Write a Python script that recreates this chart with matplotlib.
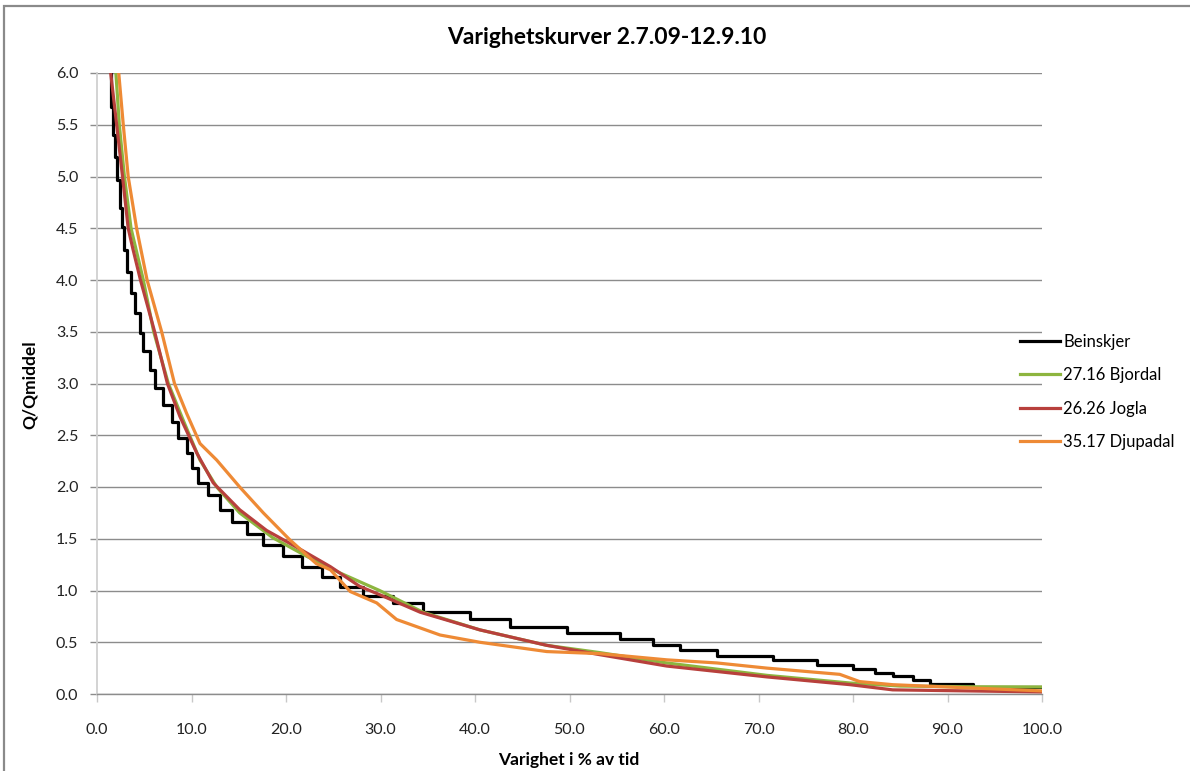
import matplotlib
matplotlib.use("Agg")
import matplotlib.pyplot as plt
from matplotlib.patches import Rectangle

# ---------------- data ----------------
title = "Varighetskurver 2.7.09-12.9.10"
xlabel = "Varighet i % av tid"
ylabel = "Q/Qmiddel"
series_names = ["Beinskjer", "27.16 Bjordal", "26.26 Jogla", "35.17 Djupadal"]

# Beinskjer: stepped duration curve (x = start of each level)
bein_x = [1.2, 1.45, 1.7, 1.9, 2.1, 2.4, 2.65, 2.85, 3.2, 3.55, 4.05, 4.55,
          4.87, 5.61, 6.14, 6.98, 7.94, 8.57, 9.52, 10.05, 10.69, 11.75,
          13.0, 14.3, 15.9, 17.6, 19.7, 21.7, 23.8, 25.7, 28.1, 31.3,
          34.5, 39.5, 43.7, 49.7, 55.3, 58.8, 61.7, 65.6, 71.5, 76.2,
          80.0, 82.3, 84.2, 86.3, 88.1, 92.7, 100.0]
bein_y = [6.3, 5.67, 5.4, 5.19, 4.97, 4.7, 4.51, 4.29, 4.08, 3.87, 3.68, 3.49,
          3.31, 3.13, 2.96, 2.79, 2.63, 2.47, 2.33, 2.18, 2.04, 1.92,
          1.78, 1.66, 1.55, 1.44, 1.33, 1.23, 1.13, 1.03, 0.95, 0.88,
          0.79, 0.72, 0.65, 0.59, 0.53, 0.47, 0.425, 0.367, 0.33, 0.28,
          0.24, 0.20, 0.17, 0.135, 0.10, 0.07, 0.07]

bjordal_x = [1.9, 2.0, 2.36, 2.9, 3.6, 4.9, 6.0, 7.55, 9.1, 10.9, 12.67,
             15.1, 18.6, 22.2, 25.7, 29.9, 34.5, 40.5, 47.6, 53.2, 60.3, 70.9,
             79.7, 85.0, 92.0, 100.0]
bjordal_y = [6.1, 6.0, 5.5, 5.0, 4.5, 4.0, 3.5, 3.0, 2.65, 2.26, 2.0,
             1.75, 1.51, 1.33, 1.17, 1.0, 0.79, 0.62, 0.47, 0.40, 0.30, 0.18,
             0.106, 0.077, 0.07, 0.068]

jogla_x = [1.35, 1.45, 2.08, 2.7, 3.3, 3.8, 4.6, 6.1, 7.45, 8.78, 10.55, 12.3,
           15.1, 17.95, 21.1, 24.7, 27.8, 29.9, 34.2, 40.5, 47.6, 53.2, 60.3,
           70.9, 79.7, 84.2, 92.0, 100.0]
jogla_y = [6.1, 6.0, 5.5, 5.0, 4.5, 4.3, 4.0, 3.5, 3.0, 2.68, 2.33, 2.04,
           1.78, 1.58, 1.42, 1.23, 1.04, 0.96, 0.79, 0.62, 0.47, 0.38, 0.27,
           0.165, 0.09, 0.04, 0.03, 0.02]

djupadal_x = [2.2, 2.3, 2.78, 3.3, 4.19, 5.3, 6.84, 8.2, 9.49, 10.9, 12.67,
              15.1, 17.6, 20.4, 23.2, 24.7, 26.8, 29.6, 31.7, 36.3, 40.5, 47.6,
              53.2, 60.3, 65.6, 70.9, 78.6, 80.7, 84.2, 92.0, 100.0]
djupadal_y = [6.1, 6.0, 5.5, 5.0, 4.5, 4.0, 3.5, 3.0, 2.71, 2.42, 2.26,
              2.0, 1.75, 1.49, 1.26, 1.20, 0.99, 0.88, 0.72, 0.57, 0.50, 0.41,
              0.39, 0.33, 0.30, 0.25, 0.19, 0.12, 0.09, 0.06, 0.03]

xticks = [0, 10, 20, 30, 40, 50, 60, 70, 80, 90, 100]
yticks = [0.0, 0.5, 1.0, 1.5, 2.0, 2.5, 3.0, 3.5, 4.0, 4.5, 5.0, 5.5, 6.0]

colors = ["#000000", "#8DB53F", "#B8403C", "#EE8A35"]

# ---------------- figure ----------------
plt.rcParams['font.family'] = ['Lato', 'DejaVu Sans']
fig = plt.figure(figsize=(11.9, 7.71), dpi=100)
fig.patches.append(Rectangle((4 / 1190, -0.05), 1.2, (771 - 6) / 771 + 0.05,
                             transform=fig.transFigure, fill=False,
                             edgecolor="#8a8a8a", linewidth=1.6))

ax = fig.add_axes([97 / 1190, (771 - 694) / 771, 945 / 1190, 621 / 771])
ax.set_xlim(0, 100)
ax.set_ylim(0, 6.0)

lw = 2.3
ax.step(bein_x, bein_y, where='post', color=colors[0], lw=lw, label=series_names[0], zorder=3)
ax.plot(bjordal_x, bjordal_y, color=colors[1], lw=lw, label=series_names[1], zorder=4)
ax.plot(jogla_x, jogla_y, color=colors[2], lw=lw, label=series_names[2], zorder=5)
ax.plot(djupadal_x, djupadal_y, color=colors[3], lw=lw, label=series_names[3], zorder=6)

ax.set_yticks(yticks)
ax.set_yticklabels([f"{v:.1f}" for v in yticks])
ax.set_xticks(xticks)
ax.set_xticklabels([f"{v:.1f}" for v in xticks])
ax.yaxis.grid(True, color="#8c8c8c", linewidth=1.0)
ax.set_axisbelow(True)
for s in ["top", "right"]:
    ax.spines[s].set_visible(False)
ax.spines["left"].set_color("#d0d0d0")
ax.spines["left"].set_linewidth(1.3)
ax.spines["bottom"].set_color("#8c8c8c")
ax.spines["bottom"].set_linewidth(1.0)
ax.tick_params(axis='y', length=5, color="#8c8c8c", width=1.0, labelsize=11.5, pad=8.5,
               labelcolor="#222222")
ax.tick_params(axis='x', length=6, color="#c8c8c8", width=1.0, labelsize=11.5, pad=15,
               labelcolor="#222222")

fig.text(607 / 1190, 1 - 38 / 771, title, ha='center', va='center',
         fontsize=16.5, fontweight='bold')
fig.text(569 / 1190, 1 - 760 / 771, xlabel, ha='center', va='center',
         fontsize=12.5, fontweight='bold')
fig.text(30 / 1190, 1 - 385 / 771, ylabel, ha='center', va='center',
         rotation=90, fontsize=12.5, fontweight='bold')

leg = ax.legend(loc='center left', bbox_to_anchor=(1020 / 1190, 1 - 392 / 771),
                bbox_transform=fig.transFigure, frameon=False, fontsize=12,
                handlelength=2.4, handletextpad=0.2, labelspacing=1.05,
                borderaxespad=0, borderpad=0)

fig.savefig("out.png", dpi=100)
